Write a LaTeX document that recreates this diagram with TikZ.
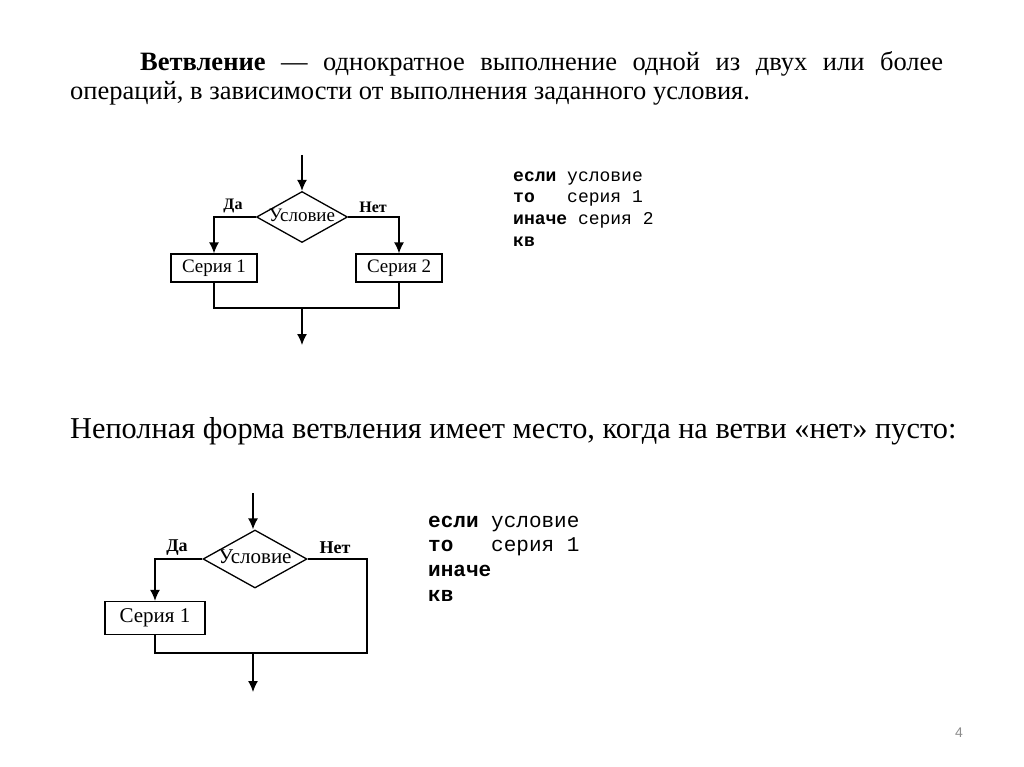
\documentclass[tikz,border=0pt]{standalone}
\usepackage{fontspec}
\setmainfont{Liberation Serif}
\newfontfamily\codefont{Liberation Mono}
\newfontfamily\numfont{Liberation Sans}
\usetikzlibrary{arrows.meta,shapes.geometric}
\definecolor{pgnum}{gray}{0.55}
\begin{document}
\begin{tikzpicture}[x=1pt,y=-1pt,
  ln/.style={line width=1.3pt},
  arr/.style={ln,-{Latex[length=11pt,width=10pt]}},
  blk/.style={draw,line width=1.3pt,rectangle,inner sep=0pt},
  dia/.style={draw,line width=1.3pt,diamond,inner sep=0pt},
  txt/.style={inner sep=0pt,anchor=base west},
  code/.style={inner sep=0pt,anchor=base west,font=\codefont},
  lbl/.style={inner sep=0pt}]
\useasboundingbox (0,0) rectangle (1024,767);
\fill[white] (0,0) rectangle (1024,767);

% heading text
\node[txt,font=\fontsize{26.5}{30}\selectfont] (t1) at (140,71)
  {\makebox[803pt][s]{\textbf{Ветвление} --- однократное выполнение одной из двух или более}};
\node[txt,font=\fontsize{26.5}{30}\selectfont] (t2) at (70,100)
  {операций, в зависимости от выполнения заданного условия.};

% first flowchart
\coordinate (s1) at (302,155);
\node[dia,minimum width=91pt,minimum height=51pt] (d1) at (302,217) {};
\node[lbl,font=\fontsize{19}{21}\selectfont] (d1t) at (302,215) {Условие};
\node[blk,minimum width=86pt,minimum height=28pt,font=\fontsize{19}{21}\selectfont] (b1) at (214,268) {Серия 1};
\node[blk,minimum width=86pt,minimum height=28pt,font=\fontsize{19}{21}\selectfont] (b2) at (399,268) {Серия 2};
\coordinate (j1) at (302,308);
\coordinate (e1) at (302,345);
\draw[arr] (s1) -- (d1.north);
\draw[arr] (d1.west) -| (b1.north);
\draw[arr] (d1.east) -| (b2.north);
\draw[ln] (b1.south) |- (j1) -| (b2.south);
\draw[arr] (j1) -- (e1);
\node[lbl,font=\bfseries\fontsize{16}{18}\selectfont] (da1) at (233,206) {Да};
\node[lbl,font=\bfseries\fontsize{16}{18}\selectfont] (net1) at (373,207) {Нет};

% first code
\node[code,font=\codefont\fontsize{18}{20}\selectfont] (c11) at (513,182) {\textbf{если} условие};
\node[code,font=\codefont\fontsize{18}{20}\selectfont] (c12) at (513,203) {\textbf{то}\ \ \ серия 1};
\node[code,font=\codefont\fontsize{18}{20}\selectfont] (c13) at (513,225) {\textbf{иначе} серия 2};
\node[code,font=\codefont\fontsize{18}{20}\selectfont] (c14) at (513,246) {\textbf{кв}};

% subtitle
\node[txt,font=\fontsize{30.3}{34}\selectfont] (t3) at (70,438)
  {Неполная форма ветвления имеет место, когда на ветви «нет» пусто:};

% second flowchart
\coordinate (s2) at (253,493);
\node[dia,minimum width=104pt,minimum height=58pt] (d2) at (255,559) {};
\node[lbl,font=\fontsize{21}{23}\selectfont] (d2t) at (255,557) {Условие};
\node[blk,minimum width=100pt,minimum height=33pt,font=\fontsize{21}{23}\selectfont] (b3) at (155,618) {Серия 1};
\coordinate (c2) at (367,653);
\coordinate (j2) at (253,653);
\coordinate (e2) at (253,692);
\draw[arr] (s2) -- (s2 |- d2.north);
\draw[arr] (d2.west) -| (b3.north);
\draw[ln] (d2.east) -| (c2) -- (b3.south |- c2) -- (b3.south);
\draw[arr] (j2) -- (e2);
\node[lbl,font=\bfseries\fontsize{18}{20}\selectfont] (da2) at (177,548) {Да};
\node[lbl,font=\bfseries\fontsize{18}{20}\selectfont] (net2) at (335,548) {Нет};

% second code
\node[code,font=\codefont\fontsize{21}{24}\selectfont] (c21) at (428,527) {\textbf{если} условие};
\node[code,font=\codefont\fontsize{21}{24}\selectfont] (c22) at (428,551) {\textbf{то}\ \ \ серия 1};
\node[code,font=\codefont\fontsize{21}{24}\selectfont] (c23) at (428,576) {\textbf{иначе}};
\node[code,font=\codefont\fontsize{21}{24}\selectfont] (c24) at (428,601) {\textbf{кв}};

% page number
\node[lbl,font=\numfont\fontsize{14}{16}\selectfont,text=pgnum] (pg) at (959,733) {4};
\end{tikzpicture}
\end{document}
